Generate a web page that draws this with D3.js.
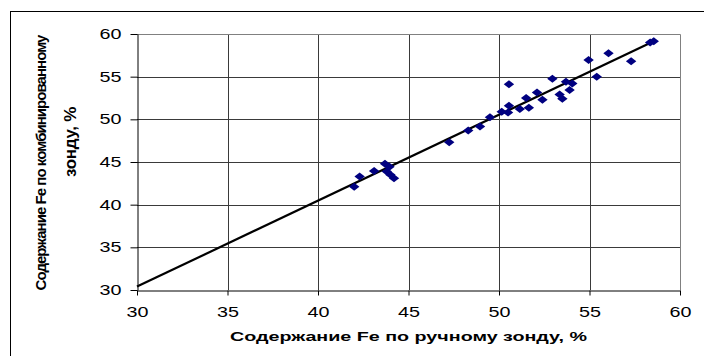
<!DOCTYPE html>
<html><head><meta charset="utf-8">
<script src="https://cdn.jsdelivr.net/npm/d3@7"></script>
<style>
html,body{margin:0;padding:0;background:#fff;overflow:hidden;}
svg{display:block;font-family:"Liberation Sans",Arial,sans-serif;overflow:hidden;}
</style></head>
<body><svg id="c" width="704" height="356"></svg>
<script>
const manualFe = [42.0,42.3,43.1,43.7,43.95,43.8,44.0,44.2,47.25,48.3,48.95,49.5,50.15,50.5,50.55,50.55,51.15,51.65,51.5,52.1,52.4,52.95,53.35,53.5,53.7,53.9,54.05,54.95,55.4,56.05,57.3,58.35,58.55];
const combinedFe = [42.1,43.3,43.95,44.8,44.45,43.9,43.5,43.1,47.3,48.7,49.15,50.25,50.9,50.8,51.6,54.1,51.2,51.35,52.5,53.15,52.3,54.75,52.9,52.4,54.4,53.45,54.2,56.95,55.0,57.75,56.8,59.0,59.15];
const xTicks = [30,35,40,45,50,55,60];
const yTicks = [30,35,40,45,50,55,60];
const trendSlope = 1.007, trendIntercept = 0.19;
const trendX = [30, 58.55];
const xTitle = "Содержание Fe по ручному зонду, %";
const yTitle1 = "Содержание Fe по комбинированному";
const yTitle2 = "зонду, %";

const svg = d3.select("#c");
// outer chart border
svg.append("rect").attr("x",10.5).attr("y",11.5).attr("width",720).attr("height",360)
  .attr("fill","none").attr("stroke","#000").attr("stroke-width",1);

const x = d3.scaleLinear().domain([30,60]).range([137,680]);
const y = d3.scaleLinear().domain([30,60]).range([290,34]);

// gridlines
const g = svg.append("g");
g.selectAll("line.vg").data(xTicks.slice(1,-1)).join("line")
  .attr("x1",d=>Math.round(x(d))+0.5).attr("x2",d=>Math.round(x(d))+0.5)
  .attr("y1",y(60)).attr("y2",y(30)).attr("stroke","#3a3a3a").attr("stroke-width",1);
g.selectAll("line.hg").data(yTicks.slice(1,-1)).join("line")
  .attr("y1",d=>Math.round(y(d))+0.5).attr("y2",d=>Math.round(y(d))+0.5)
  .attr("x1",x(30)).attr("x2",x(60)).attr("stroke","#3a3a3a").attr("stroke-width",1);
// frame top/right gray
svg.append("path").attr("d",`M${x(30)},${Math.round(y(60))+0.5}H${Math.round(x(60))+0.5}V${y(30)}`)
  .attr("fill","none").attr("stroke","#808080").attr("stroke-width",1);

// axes
const xAxis = svg.append("g").attr("transform",`translate(0,${Math.round(y(30))+0.5})`)
  .call(d3.axisBottom(x).tickValues(xTicks).tickSizeInner(5).tickSizeOuter(0).tickPadding(12));
const yAxis = svg.append("g").attr("transform",`translate(${Math.round(x(30))+0.5},0)`)
  .call(d3.axisLeft(y).tickValues(yTicks).tickSizeInner(7).tickSizeOuter(0).tickPadding(9));
[xAxis,yAxis].forEach(a=>{
  a.select(".domain").attr("stroke","#000");
  a.selectAll(".tick line").attr("stroke","#000");
  a.selectAll(".tick text").attr("font-size",14).attr("fill","#000")
    .attr("font-family","Liberation Sans, Arial, sans-serif")
    .attr("textLength",22).attr("lengthAdjust","spacingAndGlyphs");
});

// trendline
svg.append("line")
  .attr("x1",x(trendX[0])).attr("y1",y(trendSlope*trendX[0]+trendIntercept))
  .attr("x2",x(trendX[1])).attr("y2",y(trendSlope*trendX[1]+trendIntercept))
  .attr("stroke","#000").attr("stroke-width",2.2);

// markers
svg.append("g").selectAll("path").data(manualFe.map((v,i)=>[v,combinedFe[i]])).join("path")
  .attr("d","M-5.2,0L0,-4L5.2,0L0,4Z")
  .attr("transform",d=>`translate(${x(d[0])},${y(d[1])})`)
  .attr("fill","#000080");

// titles
svg.append("text").attr("x",(x(30)+x(60))/2).attr("y",341).attr("text-anchor","middle")
  .attr("font-size",13).attr("font-weight","bold").attr("textLength",357).attr("lengthAdjust","spacingAndGlyphs")
  .text(xTitle);

function fitSpacing(sel, target){
  const node = sel.node();
  const n = node.textContent.length;
  const len = node.getComputedTextLength();
  sel.attr("letter-spacing", ((target - len)/(n)).toFixed(2));
}
const t1 = svg.append("text").attr("transform","translate(45.5,163) rotate(-90)").attr("text-anchor","middle")
  .attr("font-size",15).attr("font-weight","bold").text(yTitle1);
fitSpacing(t1, 255);
const t2 = svg.append("text").attr("transform","translate(76,142) rotate(-90)").attr("text-anchor","middle")
  .attr("font-size",17).attr("font-weight","bold").attr("letter-spacing",-0.3).text(yTitle2);
</script></body></html>
